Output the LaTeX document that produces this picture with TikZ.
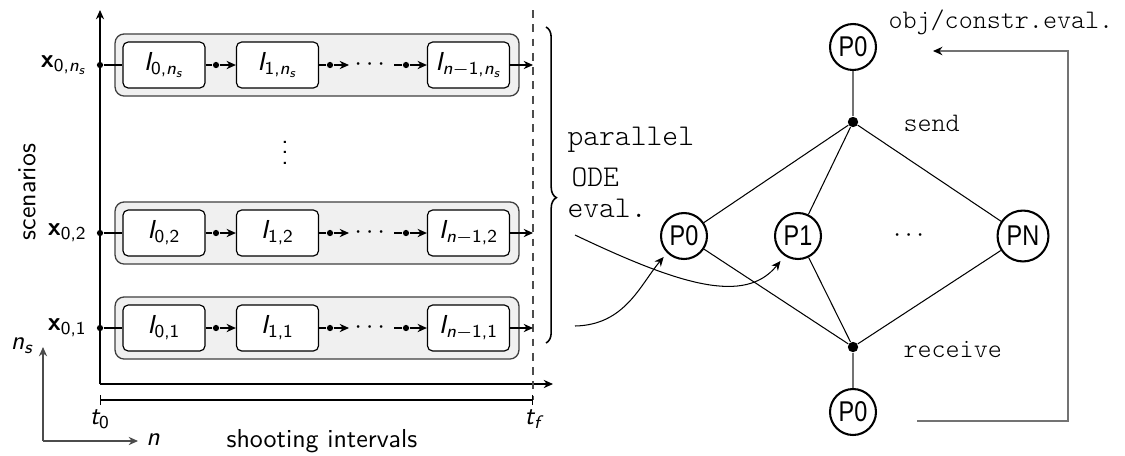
\documentclass[tikz,border=0pt]{standalone}
\usepackage{amsmath}
\usepackage{fontspec}
\usetikzlibrary{arrows.meta,decorations.pathreplacing}
\newfontfamily\pfont[FakeStretch=0.82]{Liberation Sans}
\newcommand\si[1]{\textsf{\itshape #1}}
\newcommand\su[1]{\textsf{\upshape #1}}
\newcommand\lmono{\ttfamily\fontseries{l}\selectfont}
\begin{document}
\begin{tikzpicture}[x=0.385pt,y=-0.385pt,
  every node/.style={font=\sffamily},
  tip/.style={-{Stealth[length=3.6pt,width=3.2pt]}},
  outerbox/.style={draw=black!75,fill=black!6,rounded corners=3.5pt,line width=0.5pt,minimum width=155.5pt,minimum height=23.9pt,inner sep=0pt},
  ibox/.style={draw=black,fill=white,rounded corners=2pt,line width=0.45pt,minimum width=31.6pt,minimum height=17.7pt,inner sep=0pt},
  sdot/.style={circle,fill=black,minimum size=2.4pt,inner sep=0pt},
  bdot/.style={circle,fill=black,minimum size=4pt,inner sep=0pt},
  proc/.style={circle,draw=black,line width=0.8pt,minimum size=17.7pt,inner sep=0pt,font=\pfont\fontsize{11}{12}\selectfont},
  ttl/.style={anchor=west,inner sep=0pt,font=\lmono\fontsize{10.3}{11}\selectfont},
  ttb/.style={anchor=west,inner sep=0pt,font=\lmono\fontsize{11.6}{12}\selectfont},
  gline/.style={draw=black!55,line width=0.85pt},
  tline/.style={line width=0.4pt}]
\useasboundingbox (0,0) rectangle (1125,455);
% axes
\coordinate (org) at (100,384);
\coordinate (ytop) at (100,10);
\coordinate (xend) at (553,384);
\draw[tip,line width=0.45pt] (org) -- (ytop);
\draw[tip,line width=0.45pt] (org) -- (xend);
\coordinate (dtop) at (533,10);
\coordinate (dbot) at (533,400);
\draw[dashed,black!70,line width=0.45pt,dash pattern=on 3pt off 2.5pt] (dtop) -- (dbot);
% time bar
\coordinate (ta) at (100,400);
\coordinate (tb) at (533,400);
\draw[{Bar[width=4pt]}-{Bar[width=4pt]},line width=0.5pt] (ta) -- (tb);
\node (t0) at (100,419) {$\si{t}_{\su{0}}$};
\node (tf) at (533,419) {$\si{t}_{\si{f}}$};
\node (si) at (322,441) {shooting intervals};
% small axes
\coordinate (sc) at (43,441);
\coordinate (sy) at (43,347);
\coordinate (sx) at (138,441);
\draw[tip,black!70,line width=0.45pt] (sc) -- (sy);
\draw[tip,black!70,line width=0.45pt] (sc) -- (sx);
\node (nlab) at (153,440) {\si{n}};
\node (nslab) at (22,346) {$\si{n}_{\si{s}}$};
\node[rotate=90] (scen) at (27,192) {scenarios};
\node (vd) at (285,145) {$\vdots$};
% rows
\foreach \y/\k/\nm in {65/{\si{n}_{\si{s}}}/a,233/{\su{2}}/b,328/{\su{1}}/c}{
  \node[outerbox] (o\nm) at (317,\y) {};
  \node[ibox] (bA\nm) at (164,\y) {$\si{I}_{\su{0,}\k}$};
  \node[ibox] (bB\nm) at (277.5,\y) {$\si{I}_{\su{1,}\k}$};
  \node[ibox] (bC\nm) at (468.5,\y) {$\si{I}_{\si{n}-\su{1,}\k}$};
  \node[anchor=east] (x\nm) at (96,\y) {$\textsf{\bfseries x}_{\su{0,}\k}$};
  \node[sdot] (s\nm) at (100,\y) {};
  \node[sdot] (dA\nm) at (216,\y) {};
  \node[sdot] (dB\nm) at (330,\y) {};
  \coordinate (eB\nm) at (349,\y);
  \node (cd\nm) at (372,\y) {$\cdots$};
  \coordinate (gC\nm) at (394,\y);
  \node[sdot] (dC\nm) at (406,\y) {};
  \coordinate (f\nm) at (533,\y);
  \draw[tline] (s\nm) -- (bA\nm.west);
  \draw[tline] (bA\nm.east) -- (dA\nm);
  \draw[tline,tip] (dA\nm) -- (bB\nm.west);
  \draw[tline] (bB\nm.east) -- (dB\nm);
  \draw[tline,tip] (dB\nm) -- (eB\nm);
  \draw[tline] (gC\nm) -- (dC\nm);
  \draw[tline,tip] (dC\nm) -- (bC\nm.west);
  \draw[tline,tip] (bC\nm.east) -- (f\nm);
}
% brace
\coordinate (ba) at (546,27);
\coordinate (bb) at (546,343);
\draw[decorate,decoration={brace,amplitude=4pt,aspect=0.54},line width=0.6pt] (ba) -- (bb);
\node[ttb] (par) at (567,140) {parallel};
\node[ttb] (ode) at (571,177) {ODE};
\node[ttb] (evl) at (567,208) {eval.};
% right graph
\node[proc] (top) at (853,47) {P0};
\node[bdot] (snd) at (853,122) {};
\node[proc] (q0) at (684,236) {P0};
\node[proc] (q1) at (798,236) {P1};
\node (qd) at (911,236) {$\cdots$};
\node[proc,minimum size=19.6pt] (qn) at (1023,236) {PN};
\node[bdot] (rcv) at (853,347) {};
\node[proc] (bot) at (853,412) {P0};
\node[ttl] (sendl) at (903,123) {send};
\node[ttl] (recvl) at (903,349) {receive};
\node[ttl] (objl) at (888,22) {obj/constr.eval.};
\draw[gline] (top) -- (snd);
\draw[gline] (rcv) -- (bot);
\foreach \p in {q0,q1,qn}{
  \draw[tline] (snd) -- (\p);
  \draw[tline] (rcv) -- (\p);
}
% loop
\coordinate (la) at (917,421);
\coordinate (lc) at (1068,421);
\coordinate (ld) at (1068,51);
\coordinate (lz) at (933,51);
\draw[gline,-{Stealth[length=3.6pt,width=3.2pt,color=black]}] (la) -- (lc) -- (ld) -- (lz);
% curves
\coordinate (ca) at (575,326);
\coordinate (cb) at (575,235);
\draw[tline,tip,shorten >=2pt] (ca) .. controls (625,325) and (640,285) .. (q0.225);
\draw[tline,tip,shorten >=2.5pt] (cb) .. controls (680,285) and (745,305) .. (q1.236);
\end{tikzpicture}
\end{document}
